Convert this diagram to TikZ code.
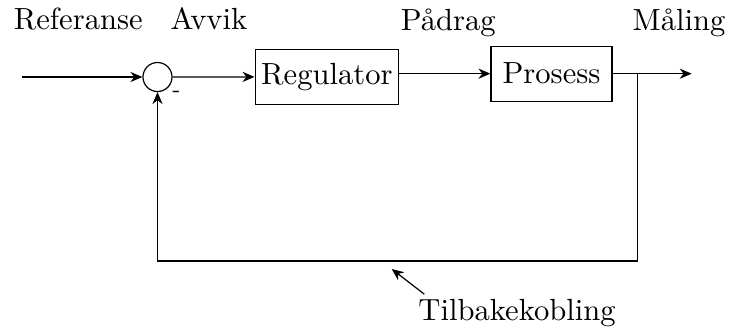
\documentclass[tikz,border=0pt]{standalone}
\usepackage{tikz}
\usetikzlibrary{arrows.meta, positioning, calc}

\begin{document}
\begin{tikzpicture}[
        every node/.style={font=\fontsize{10.2}{12}\selectfont},
        blokk/.style={draw, minimum height=0.644cm, inner sep=1pt},
        pil/.style={-{Stealth[length=4pt, width=3.4pt]}},
        etikett/.style={anchor=base, inner sep=0pt}]
        \useasboundingbox (0,0) rectangle (8.540,-3.843);
        % Sumpunkt
        \node[draw, circle, minimum size=0.34cm, inner sep=0pt] (sum) at (1.845,-0.902) {};
        \node[font=\scriptsize, inner sep=0pt] (minus) at (2.066,-1.100) {-};
        % Blokker
        \node[blokk, minimum width=1.683cm] (reg) at (3.830,-0.900) {Regulator};
        \node[blokk, minimum width=1.418cm] (pros) at (6.461,-0.863) {Prosess};
        % Hjelpepunkter
        \coordinate (inn) at (0.254,-0.902);
        \coordinate (ut) at (8.103,-0.863);
        \coordinate (gren) at (7.471,-0.863);
        \coordinate (bunn) at (7.471,-3.058);
        % Signaler
        \draw[pil] (inn) -- (sum);
        \draw[pil] (sum) -- (reg);
        \draw[pil] (pros.west -| reg.east) -- (pros);
        \draw[pil] (pros) -- (ut);
        \draw[pil] (gren) -- (bunn) -| (sum);
        % Tekster
        \node[etikett] (ref) at (0.917,-0.351) {Referanse};
        \node[etikett] (avvik) at (2.448,-0.351) {Avvik};
        \node[etikett] (padrag) at (5.252,-0.357) {Pådrag};
        \node[etikett] (maling) at (7.955,-0.357) {Måling};
        \node[etikett] (tilb) at (6.057,-3.749) {Tilbakekobling};
        \coordinate (tilbpil) at (4.589,-3.151);
        \draw[pil] ([shift={(0.076,0.047)}]tilb.north west) -- (tilbpil);
\end{tikzpicture}
\end{document}
